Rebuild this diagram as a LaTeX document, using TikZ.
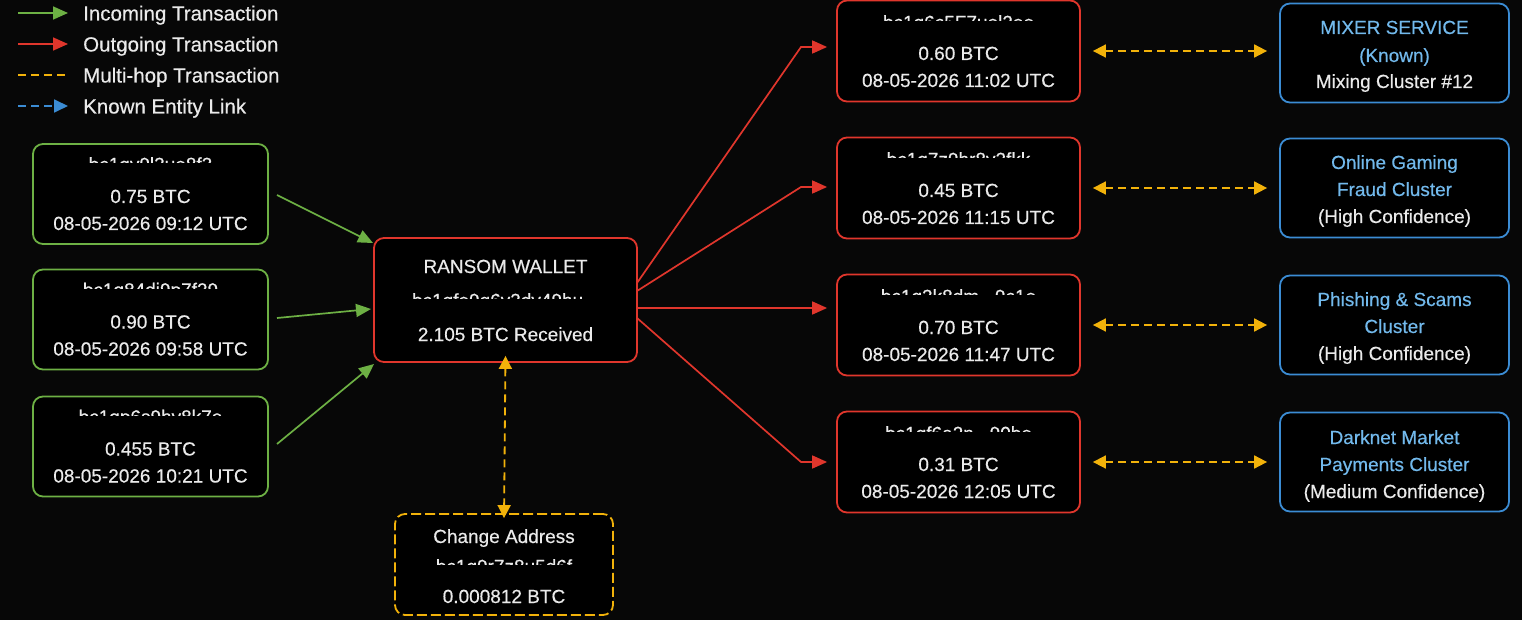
\documentclass[tikz,border=0pt]{standalone}
\usepackage{fontspec}
\setmainfont{Liberation Sans}[FakeBold=0.45]
\usetikzlibrary{arrows.meta}
\definecolor{bgc}{HTML}{070707}
\definecolor{ingreen}{HTML}{6DB044}
\definecolor{outred}{HTML}{E0362C}
\definecolor{hopyel}{HTML}{F2B20A}
\definecolor{entblue}{HTML}{3B8CD4}
\definecolor{enttxt}{HTML}{72B9EC}
\definecolor{txtw}{HTML}{EAEAEA}
\newcommand{\mydots}{...}
\tikzset{
  box/.style={rounded corners=10pt, line width=1.8pt, fill=black, inner sep=0pt},
  inbox/.style={box, draw=ingreen, minimum width=235pt, minimum height=100pt},
  walletbox/.style={box, draw=outred, minimum width=263pt, minimum height=124pt},
  outbox/.style={box, draw=outred, minimum width=243pt, minimum height=101pt},
  changebox/.style={box, draw=hopyel, dash pattern=on 10pt off 4pt, minimum width=218pt, minimum height=101pt},
  entbox/.style={box, draw=entblue, minimum width=229pt, minimum height=99pt},
  txt/.style={text=txtw, font=\fontsize{19}{22}\selectfont, inner sep=0pt, anchor=base},
  btxt/.style={txt, text=enttxt},
  addr/.style={txt},
  inarrow/.style={draw=ingreen, line width=1.7pt, -{Triangle[length=15pt,width=13pt]}},
  outarrow/.style={draw=outred, line width=1.7pt, -{Triangle[length=15pt,width=13pt]}},
  hoparrow/.style={draw=hopyel, line width=1.8pt, dash pattern=on 8pt off 5pt, {Triangle[length=13pt,width=13pt]}-{Triangle[length=13pt,width=13pt]}},
  hopline/.style={draw=hopyel, line width=1.8pt, dash pattern=on 8pt off 5pt},
  entarrow/.style={draw=entblue, line width=1.8pt, dash pattern=on 8pt off 5pt, -{Triangle[length=14pt,width=13pt]}},
  legtxt/.style={txt, anchor=base west, font=\fontsize{20.5}{24}\selectfont},
}
\newcommand{\redact}[1]{\fill[black] ([xshift=-7pt,yshift=8pt]#1.base west) rectangle ([xshift=7pt,yshift=-5pt]#1.base east);}
\begin{document}
\begin{tikzpicture}[x=1pt,y=-1pt]
\fill[bgc] (0,0) rectangle (1522,620);
\useasboundingbox (0,0) rectangle (1522,620);

% legend
\coordinate (l1a) at (18,13);  \coordinate (l1b) at (68,13);
\coordinate (l2a) at (18,44);  \coordinate (l2b) at (68,44);
\coordinate (l3a) at (18,75);  \coordinate (l3b) at (68,75);
\coordinate (l4a) at (18,106); \coordinate (l4b) at (68,106);
\draw[inarrow] (l1a) -- (l1b);
\draw[outarrow] (l2a) -- (l2b);
\draw[hopline] (l3a) -- (l3b);
\draw[entarrow] (l4a) -- (l4b);
\node[legtxt] (lt1) at (83,20.5) {Incoming Transaction};
\node[legtxt] (lt2) at (83,51.5) {Outgoing Transaction};
\node[legtxt] (lt3) at (83,82.5) {Multi-hop Transaction};
\node[legtxt] (lt4) at (83,113.5) {Known Entity Link};

% incoming boxes
\foreach \n/\cy/\ad/\amt/\dt in {
  in1/194/bc1qy9l3ue8f3/0.75 BTC/08-05-2026 09:12 UTC,
  in2/319.5/bc1q84dj9p7f29/0.90 BTC/08-05-2026 09:58 UTC,
  in3/446.5/bc1qp6s9hv8k7e/0.455 BTC/08-05-2026 10:21 UTC}{
  \node[inbox] (\n) at (150.5,\cy) {};
  \node[addr] (\n a) at (150.5,\cy-23) {\ad};
  \redact{\n a}
  \node[txt] (\n b) at (150.5,\cy+9) {\amt};
  \node[txt] (\n c) at (150.5,\cy+36) {\dt};
}

% ransom wallet
\node[walletbox] (w) at (505.5,300) {};
\node[txt] (wa) at (505.5,273) {RANSOM WALLET};
\node[addr] (wb) at (505.5,307) {bc1qfe9g6v3dy49hu\mydots};
\redact{wb}
\node[txt] (wc) at (505.5,341) {2.105 BTC Received};

% change
\node[changebox] (ch) at (504,564.5) {};
\node[txt] (cha) at (504,543) {Change Address};
\node[addr] (chb) at (504,573) {bc1q9r7z8u5d6f};
\redact{chb}
\node[txt] (chc) at (504,603) {0.000812 BTC};

% outgoing
\foreach \n/\cy/\ad/\amt/\dt in {
  o1/51/bc1q6c5F7uel2ee/0.60 BTC/08-05-2026 11:02 UTC,
  o2/188/bc1q7z9hr8y2fkk/0.45 BTC/08-05-2026 11:15 UTC,
  o3/325/bc1q3k8dm\mydots 9c1e/0.70 BTC/08-05-2026 11:47 UTC,
  o4/462/bc1qf6a2n\mydots 90be/0.31 BTC/08-05-2026 12:05 UTC}{
  \node[outbox] (\n) at (958.5,\cy) {};
  \node[addr] (\n a) at (958.5,\cy-22) {\ad};
  \redact{\n a}
  \node[txt] (\n b) at (958.5,\cy+9) {\amt};
  \node[txt] (\n c) at (958.5,\cy+36) {\dt};
}

% entities
\node[entbox] (e1) at (1394.5,53) {};
\node[btxt] (e1a) at (1394.5,34) {MIXER SERVICE};
\node[btxt] (e1b) at (1394.5,62) {(Known)};
\node[txt] (e1c) at (1394.5,88) {Mixing Cluster \#12};
\node[entbox] (e2) at (1394.5,188) {};
\node[btxt] (e2a) at (1394.5,169) {Online Gaming};
\node[btxt] (e2b) at (1394.5,196) {Fraud Cluster};
\node[txt] (e2c) at (1394.5,223) {(High Confidence)};
\node[entbox] (e3) at (1394.5,325) {};
\node[btxt] (e3a) at (1394.5,306) {Phishing \& Scams};
\node[btxt] (e3b) at (1394.5,333) {Cluster};
\node[txt] (e3c) at (1394.5,360) {(High Confidence)};
\node[entbox] (e4) at (1394.5,462) {};
\node[btxt] (e4a) at (1394.5,444) {Darknet Market};
\node[btxt] (e4b) at (1394.5,471) {Payments Cluster};
\node[txt] (e4c) at (1394.5,498) {(Medium Confidence)};

% incoming arrows
\coordinate (g1s) at (277,195); \coordinate (g1e) at (373,243);
\coordinate (g2s) at (277,318); \coordinate (g2e) at (371,309);
\coordinate (g3s) at (277,444); \coordinate (g3e) at (374,364);
\draw[inarrow] (g1s) -- (g1e);
\draw[inarrow] (g2s) -- (g2e);
\draw[inarrow] (g3s) -- (g3e);

% outgoing arrows
\coordinate (r1s) at (637,283); \coordinate (r1k) at (801,47);
\coordinate (r2s) at (637,291); \coordinate (r2k) at (801,187);
\coordinate (r3s) at (637,308);
\coordinate (r4s) at (637,318); \coordinate (r4k) at (801,462);
\draw[outarrow] (r1s) -- (r1k) -- ([xshift=-9pt]o1.west |- r1k);
\draw[outarrow] (r2s) -- (r2k) -- ([xshift=-9pt]o2.west |- r2k);
\draw[outarrow] (r3s) -- ([xshift=-9pt]o3.west |- r3s);
\draw[outarrow] (r4s) -- (r4k) -- ([xshift=-9pt]o4.west |- r4k);

% multi-hop links
\draw[hoparrow] ([xshift=12pt]o1.east) -- ([xshift=-12pt]e1.west |- o1.east);
\draw[hoparrow] ([xshift=12pt]o2.east) -- ([xshift=-12pt]e2.west |- o2.east);
\draw[hoparrow] ([xshift=12pt]o3.east) -- ([xshift=-12pt]e3.west |- o3.east);
\draw[hoparrow] ([xshift=12pt]o4.east) -- ([xshift=-12pt]e4.west |- o4.east);
\draw[hoparrow] ([yshift=7pt]w.south) -- ([yshift=-5pt]ch.north);
\end{tikzpicture}
\end{document}
